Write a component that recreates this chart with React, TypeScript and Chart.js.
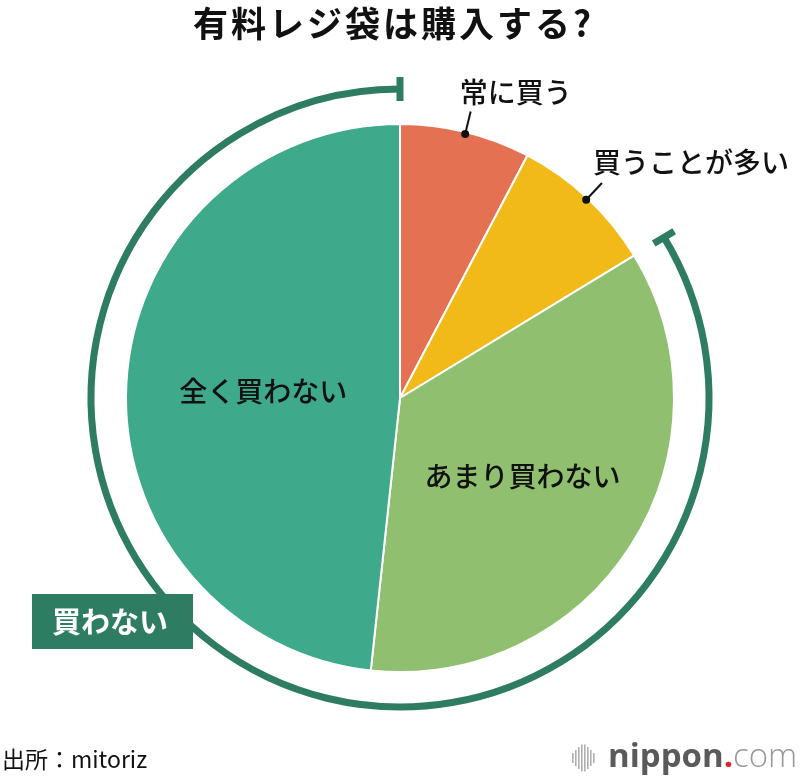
import React, { useEffect, useRef } from "react";
import { Chart, registerables } from "chart.js";
Chart.register(...registerables);

const categories = ["常に買う", "買うことが多い", "あまり買わない", "全く買わない"];
const values = [7.7, 8.6, 35.4, 48.3];
const colors = ["#e57153", "#f1ba18", "#8fbf6f", "#3fa98b"];
const groupLabel = "買わない";
const groupFrom = 2;
const groupTo = 3;
const titleText = "有料レジ袋は購入する?";
const sourceText = "出所：mitoriz";

const FONT = '"Noto Sans CJK JP", "Noto Sans", sans-serif';
const DARK = "#2e7d62";

const overlay = {
  id: "overlay",
  afterDatasetsDraw(chart: any) {
    const ctx = chart.ctx as CanvasRenderingContext2D;
    const arcs = chart.getDatasetMeta(0).data as any[];
    const cx = arcs[0].x;
    const cy = arcs[0].y;
    const R = arcs[0].outerRadius;
    ctx.save();

    // bracket arc
    const a0 = arcs[groupFrom].startAngle;
    const a1 = arcs[groupTo].endAngle;
    const br = R + 35;
    ctx.strokeStyle = DARK;
    ctx.lineWidth = 7;
    ctx.beginPath();
    ctx.arc(cx, cy, br, a0, a1);
    ctx.stroke();
    for (const a of [a0, a1]) {
      ctx.beginPath();
      ctx.moveTo(cx + Math.cos(a) * (br - 12), cy + Math.sin(a) * (br - 12));
      ctx.lineTo(cx + Math.cos(a) * (br + 12), cy + Math.sin(a) * (br + 12));
      ctx.stroke();
    }

    // inside labels
    ctx.fillStyle = "#111";
    ctx.font = `500 28px ${FONT}`;
    ctx.textAlign = "center";
    ctx.textBaseline = "middle";
    const rf = [0, 0, 0.53, 0.5];
    for (let i = 2; i < 4; i++) {
      const m = (arcs[i].startAngle + arcs[i].endAngle) / 2;
      ctx.fillText(categories[i], cx + Math.cos(m) * R * rf[i], cy + Math.sin(m) * R * rf[i] + 1);
    }

    // outside labels
    const tOff = [
      [-11, -19],
      [-9, -21],
    ];
    for (let i = 0; i < 2; i++) {
      const m = (arcs[i].startAngle + arcs[i].endAngle) / 2;
      const px = cx + Math.cos(m) * (R - 2);
      const py = cy + Math.sin(m) * (R - 2);
      const qx = cx + Math.cos(m) * (R + 21);
      const qy = cy + Math.sin(m) * (R + 21);
      ctx.strokeStyle = "#111";
      ctx.lineWidth = 2;
      ctx.beginPath();
      ctx.moveTo(px, py);
      ctx.lineTo(qx, qy);
      ctx.stroke();
      ctx.beginPath();
      ctx.arc(px, py, 4, 0, Math.PI * 2);
      ctx.fill();
      ctx.textAlign = "left";
      ctx.fillText(categories[i], qx + tOff[i][0], qy + tOff[i][1]);
    }

    // group box
    ctx.fillStyle = DARK;
    ctx.fillRect(32, 594, 161, 55);
    ctx.fillStyle = "#fff";
    ctx.font = `700 29px ${FONT}`;
    ctx.textAlign = "center";
    ctx.fillText(groupLabel, 110, 622);

    // title
    ctx.fillStyle = "#111";
    ctx.font = `700 35px ${FONT}`;
    (ctx as any).letterSpacing = "3px";
    ctx.textAlign = "left";
    ctx.fillText(titleText, 193, 24);
    (ctx as any).letterSpacing = "0px";

    // source
    ctx.textAlign = "left";
    ctx.font = `400 23px ${FONT}`;
    ctx.fillText(sourceText, 2, 759);

    // logo
    const bars = [10, 16, 22, 27, 27, 22, 16, 10];
    ctx.fillStyle = "#b0b0b0";
    bars.forEach((h, k) => {
      ctx.fillRect(572 + k * 3, 758 - h / 2, 1.6, h);
    });
    ctx.textBaseline = "alphabetic";
    ctx.font = `700 33px "Open Sans", sans-serif`;
    ctx.fillStyle = "#5a5a5a";
    ctx.fillText("nippon", 608, 767);
    let x = 608 + ctx.measureText("nippon").width;
    ctx.fillStyle = "#e3232b";
    ctx.fillText(".", x, 767);
    x += ctx.measureText(".").width;
    ctx.font = `300 33px "Open Sans", sans-serif`;
    ctx.fillStyle = "#999";
    ctx.fillText("com", x, 767);

    ctx.restore();
  },
};

export default function App() {
  const ref = useRef<HTMLCanvasElement>(null);
  useEffect(() => {
    const chart = new Chart(ref.current!, {
      type: "pie",
      data: {
        labels: categories,
        datasets: [
          {
            data: values,
            backgroundColor: colors,
            borderColor: "#fff",
            borderWidth: 2,
            hoverOffset: 0,
            offset: 0,
          },
        ],
      },
      options: {
        responsive: false,
        animation: false,
        layout: { padding: { top: 123, bottom: 107, left: 125, right: 125 } },
        plugins: { legend: { display: false }, tooltip: { enabled: false } },
      },
      plugins: [overlay],
    });
    return () => chart.destroy();
  }, []);
  return (
    <div style={{ position: "fixed", left: 0, top: 0, width: 800, height: 780, background: "#fff" }}>
      <canvas ref={ref} width={800} height={780} style={{ width: 800, height: 780 }} />
    </div>
  );
}
